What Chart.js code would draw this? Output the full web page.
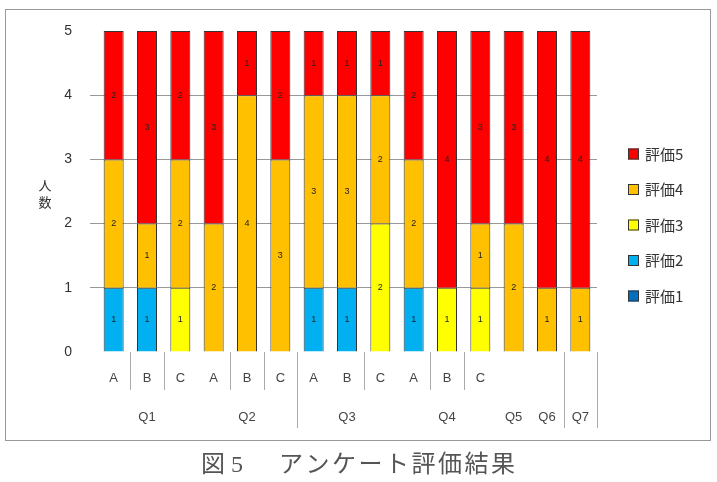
<!DOCTYPE html>
<html>
<head>
<meta charset="utf-8">
<script src="https://cdn.jsdelivr.net/npm/chart.js@4.4.1/dist/chart.umd.min.js"></script>
<style>
  html, body { margin: 0; padding: 0; background: #fff; }
  #wrap { position: relative; width: 717px; height: 482px; }
</style>
</head>
<body>
<div id="wrap"><canvas id="chart" width="717" height="482"></canvas></div>
<script>
// 設問・項目
const questions = ['Q1', 'Q1', 'Q1', 'Q2', 'Q2', 'Q2', 'Q3', 'Q3', 'Q3', 'Q4', 'Q4', 'Q4', 'Q5', 'Q6', 'Q7'];
const items = ['A', 'B', 'C', 'A', 'B', 'C', 'A', 'B', 'C', 'A', 'B', 'C', '', '', ''];
const yTicks = [0, 1, 2, 3, 4, 5];

// 評価ごとの人数
const rating1 = [null, null, null, null, null, null, null, null, null, null, null, null, null, null, null];
const rating2 = [1, 1, null, null, null, null, 1, 1, null, 1, null, null, null, null, null];
const rating3 = [null, null, 1, null, null, null, null, null, 2, null, 1, 1, null, null, null];
const rating4 = [2, 1, 2, 2, 4, 3, 3, 3, 2, 2, null, 1, 2, 1, 1];
const rating5 = [2, 3, 2, 3, 1, 2, 1, 1, 1, 2, 4, 3, 3, 4, 4];

const seriesNames = ['評価1', '評価2', '評価3', '評価4', '評価5'];
const seriesColors = ['#0070C0', '#00B0F0', '#FFFF00', '#FFC000', '#FF0000'];

// 区切り線の位置（その番号の項目の右側）
const shortSeps = [0, 1, 3, 4, 7, 9, 10];
const longSeps = [5, 13, 14];

const labels = questions.map((q, i) => `${q} ${items[i]}`.trim());
const seriesData = [rating1, rating2, rating3, rating4, rating5];

const datasets = seriesData.map((data, i) => ({
  label: seriesNames[i],
  data,
  backgroundColor: seriesColors[i],
  borderColor: '#333',
  borderWidth: 1,
  barPercentage: 0.6,
  categoryPercentage: 1.0,
}));

const extrasPlugin = {
  id: 'extras',
  beforeDraw(chart) {
    const { ctx } = chart;
    ctx.save();
    ctx.fillStyle = '#fff';
    ctx.fillRect(0, 0, chart.width, chart.height);
    ctx.strokeStyle = '#999';
    ctx.lineWidth = 1;
    ctx.strokeRect(5.5, 9.5, 705, 431);
    ctx.restore();
  },
  afterDatasetsDraw(chart) {
    const { ctx } = chart;
    ctx.save();
    // 値ラベル
    ctx.font = '9px "Liberation Sans", Arial, sans-serif';
    ctx.fillStyle = '#222';
    ctx.textAlign = 'center';
    ctx.textBaseline = 'middle';
    chart.data.datasets.forEach((ds, di) => {
      const meta = chart.getDatasetMeta(di);
      meta.data.forEach((bar, i) => {
        const v = ds.data[i];
        if (v) ctx.fillText(String(v), bar.x, (bar.y + bar.base) / 2);
      });
    });
    ctx.restore();
  },
  afterDraw(chart) {
    const { ctx } = chart;
    const x = chart.scales.x;
    const bottom = chart.chartArea.bottom;
    const half = (x.getPixelForValue(1) - x.getPixelForValue(0)) / 2;
    ctx.save();

    // 項目ラベル
    ctx.font = '13px "Liberation Sans", Arial, sans-serif';
    ctx.fillStyle = '#444';
    ctx.textAlign = 'center';
    ctx.textBaseline = 'middle';
    items.forEach((it, i) => {
      if (it) ctx.fillText(it, x.getPixelForValue(i), 378);
    });

    // 設問ラベル
    const groups = [];
    questions.forEach((q, i) => {
      const last = groups[groups.length - 1];
      if (last && last.name === q) last.idx.push(i);
      else groups.push({ name: q, idx: [i] });
    });
    groups.forEach(g => {
      const px = g.idx.reduce((s, i) => s + x.getPixelForValue(i), 0) / g.idx.length;
      ctx.fillText(g.name, px, 417);
    });

    // 区切り線
    ctx.strokeStyle = '#aaa';
    ctx.lineWidth = 1;
    const sep = (k, y2) => {
      const px = Math.round(x.getPixelForValue(k) + half) + 0.5;
      ctx.beginPath();
      ctx.moveTo(px, bottom);
      ctx.lineTo(px, y2);
      ctx.stroke();
    };
    shortSeps.forEach(k => sep(k, 390));
    longSeps.forEach(k => sep(k, 428));

    // 縦軸タイトル
    ctx.font = '13px "Noto Sans CJK JP", sans-serif';
    ctx.fillStyle = '#333';
    ctx.fillText('人', 45, 185);
    ctx.fillText('数', 45, 202);

    // 凡例（上から評価5）
    ctx.font = '15px "Noto Sans CJK JP", sans-serif';
    ctx.textAlign = 'left';
    for (let n = 0; n < seriesNames.length; n += 1) {
      const si = seriesNames.length - 1 - n;
      const cy = 154 + n * 35.5;
      ctx.fillStyle = seriesColors[si];
      ctx.fillRect(628, cy - 5.5, 11, 11);
      ctx.strokeStyle = '#333';
      ctx.strokeRect(628.5, cy - 5, 10, 10);
      ctx.fillStyle = '#333';
      ctx.fillText(seriesNames[si], 645, cy);
    }

    // 図のキャプション
    ctx.font = '24px "Liberation Serif", "Noto Sans CJK JP", serif';
    ctx.fillStyle = '#555';
    ctx.textAlign = 'left';
    ctx.fillText('図 5', 201, 466);
    ctx.letterSpacing = '2.5px';
    ctx.fillText('アンケート評価結果', 279, 466);
    ctx.restore();
  },
};

const ctx = document.getElementById('chart').getContext('2d');
new Chart(ctx, {
  type: 'bar',
  data: { labels, datasets },
  options: {
    responsive: false,
    animation: false,
    layout: { padding: { left: 0, right: 120, top: 31, bottom: 130 } },
    plugins: {
      legend: { display: false },
      tooltip: { enabled: false },
    },
    scales: {
      x: {
        stacked: true,
        display: false,
      },
      y: {
        stacked: true,
        min: 0,
        max: 5,
        afterFit: scale => { scale.width = 97; },
        afterBuildTicks: scale => { scale.ticks = yTicks.map(v => ({ value: v })); },
        border: { display: false },
        grid: {
          color: c => (c.tick && (c.tick.value === 0 || c.tick.value === 5) ? 'rgba(0,0,0,0)' : '#999'),
          tickLength: 7,
        },
        ticks: {
          padding: 18,
          color: '#333',
          font: { size: 14, family: '"Liberation Sans", Arial, sans-serif' },
        },
      },
    },
  },
  plugins: [extrasPlugin],
});
</script>
</body>
</html>
